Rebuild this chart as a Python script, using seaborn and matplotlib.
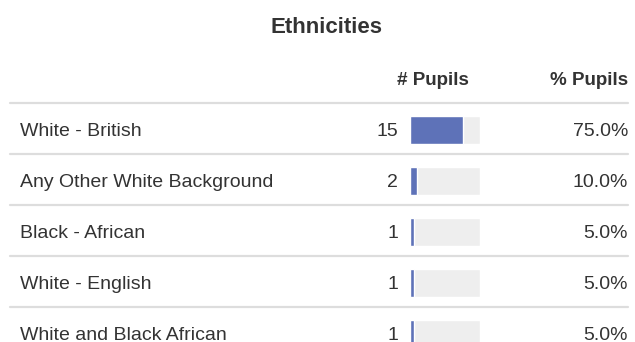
import numpy as np
import pandas as pd
import matplotlib
matplotlib.use('Agg')
import matplotlib.pyplot as plt
import seaborn as sns

# data
ethnicities = ['White - British', 'Any Other White Background', 'Black - African',
               'White - English', 'White and Black African']
pupils = [15, 2, 1, 1, 1]
pct_labels = ['75.0%', '10.0%', '5.0%', '5.0%', '5.0%']
total = 20

df = pd.DataFrame({'ethnicity': ethnicities, 'pupils': pupils, 'total': [total] * len(pupils)})

sns.set_style('white')
plt.rcParams['font.family'] = ['Liberation Sans', 'DejaVu Sans']

W, H = 635, 342
fig = plt.figure(figsize=(W / 100, H / 100), dpi=100)

# main axes in pixel coords for the table text and lines
ax = fig.add_axes([0, 0, 1, 1])
ax.set_xlim(0, W)
ax.set_ylim(H, 0)
ax.axis('off')

txt = '#333333'
ax.text(326, 33, 'Ethnicities', ha='center', va='baseline', fontsize=16,
        fontweight='bold', color=txt)
ax.text(469, 85, '# Pupils', ha='right', va='baseline', fontsize=13.5,
        fontweight='bold', color=txt)
ax.text(628, 85, '% Pupils', ha='right', va='baseline', fontsize=13.5,
        fontweight='bold', color=txt)

row0, step = 130, 51
for i, name in enumerate(ethnicities):
    y = row0 + i * step
    ax.axhline(y - 27, xmin=10 / W, xmax=628 / W, color='#dddddd', lw=1.6)
    ax.text(20, y + 6, name, ha='left', va='baseline', fontsize=14, color=txt)
    ax.text(398, y + 6, str(pupils[i]), ha='right', va='baseline', fontsize=14, color=txt)
    ax.text(628, y + 6, pct_labels[i], ha='right', va='baseline', fontsize=14, color=txt)

# bar axes: one row per category
top = row0 - step / 2
bottom = row0 + (len(ethnicities) - 1) * step + step / 2
bax = fig.add_axes([410 / W, (H - bottom) / H, 70 / W, (bottom - top) / H])
sns.barplot(data=df, x='total', y='ethnicity', color='#eeeeee', width=0.55,
            saturation=1, ax=bax)
sns.barplot(data=df, x='pupils', y='ethnicity', color='#5e72b8', width=0.55,
            saturation=1, ax=bax)
bax.set_xlim(0, total)
bax.axis('off')

fig.savefig('out.png', dpi=100)
